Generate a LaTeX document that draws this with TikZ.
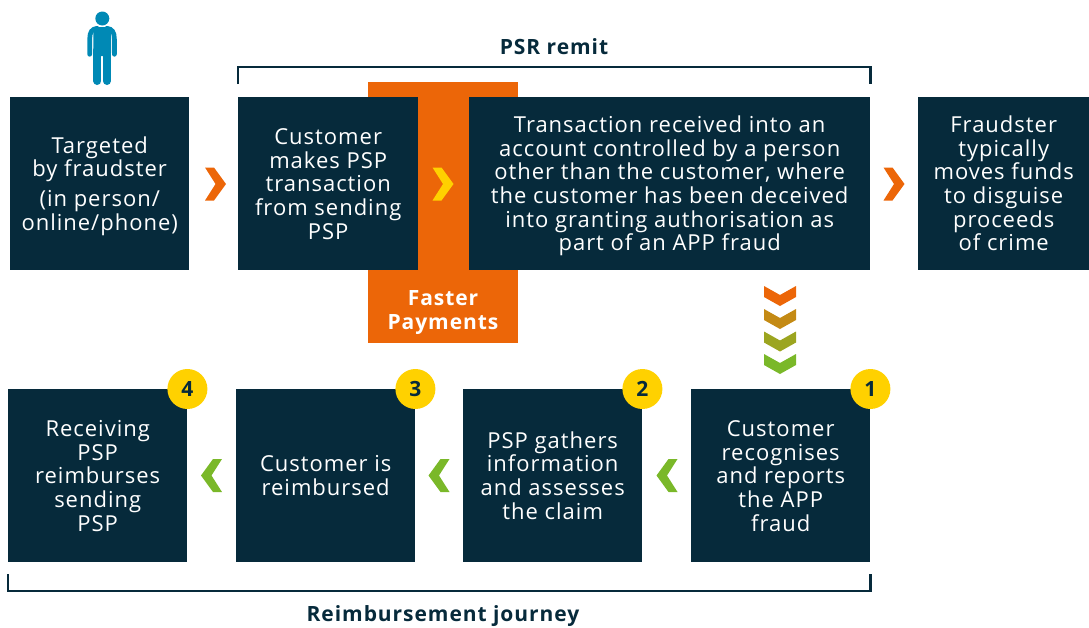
\documentclass[tikz,border=0pt]{standalone}
\usepackage{fontspec}
\setmainfont[LetterSpace=4.5]{Open Sans}
\definecolor{navy}{HTML}{062A3B}
\definecolor{fporange}{HTML}{EC6608}
\definecolor{fpyellow}{HTML}{FFD100}
\definecolor{fpgreen}{HTML}{7AB829}
\definecolor{fpmid}{HTML}{C48A14}
\definecolor{fpmidb}{HTML}{9CA520}
\definecolor{fpblue}{HTML}{0089B5}
\newcommand{\fst}{\rule{0pt}{21pt}}
\tikzset{
  evenlines/.style={execute at end node={\rule[-5pt]{0pt}{5pt}}},
  fpbox/.style={fill=navy,text=white,inner sep=0pt,align=center,font=\fontsize{22}{23.7}\selectfont,anchor=north west,evenlines},
  badge/.style={circle,fill=fpyellow,text=navy,minimum size=40pt,inner sep=0pt,font=\bfseries\fontsize{21}{24}\selectfont},
  heading/.style={text=navy,font=\bfseries\fontsize{21}{24}\selectfont,inner sep=0pt},
  bracket/.style={draw=navy,line width=2.2pt},
}
\newcommand{\chevd}[3]{\fill[#1] (-16+#2,#3)--(0+#2,#3+9)--(16+#2,#3)--(16+#2,#3+11)--(0+#2,#3+20)--(-16+#2,#3+11)--cycle;}
\newcommand{\chevr}[3]{\fill[#1] (#2-10.5,#3-16.5)--(#2-1.5,#3-16.5)--(#2+10.5,#3)--(#2-1.5,#3+16.5)--(#2-10.5,#3+16.5)--(#2,#3)--cycle;}
\newcommand{\chevl}[3]{\fill[#1] (#2+10.5,#3-16.5)--(#2+1.5,#3-16.5)--(#2-10.5,#3)--(#2+1.5,#3+16.5)--(#2+10.5,#3+16.5)--(#2,#3)--cycle;}
\begin{document}
\begin{tikzpicture}[x=1pt,y=-1pt]
\useasboundingbox (0,0) rectangle (1089,627);
% person
\fill[fpblue] (102.3,18.5) circle (7);
\fill[fpblue,rounded corners=3pt] (93.4,56)--(93.4,27)--(111,27)--(111,56)--cycle;
\draw[fpblue,line width=4.7pt,line cap=round] (89.7,54.3)--(89.7,39) .. controls (89.7,32) and (92,29) .. (97,28.3);
\draw[fpblue,line width=4.7pt,line cap=round] (114.4,54.3)--(114.4,39) .. controls (114.4,32) and (112,29) .. (107,28.3);
\draw[fpblue,line width=8pt,line cap=round] (97.4,50)--(97.4,81);
\draw[fpblue,line width=8pt,line cap=round] (106.9,50)--(106.9,81);
% orange band
\fill[fporange] (368,82) rectangle (518,343);
\node[text=white,align=center,inner sep=0pt,font=\bfseries\fontsize{21}{24}\selectfont,evenlines] (fp) at (443,309.5) {\fst Faster\\Payments};
% top row
\node[fpbox,minimum width=179pt,minimum height=173pt] (a) at (10,97) {\fst Targeted\\by fraudster\\[6pt](in person/\\online/phone)};
\node[fpbox,minimum width=180pt,minimum height=173pt] (b) at (238,97) {\fst Customer\\makes PSP\\transaction\\from sending\\PSP};
\node[fpbox,minimum width=401pt,minimum height=173pt] (c) at (469,97) {\fst Transaction received into an\\account controlled by a person\\other than the customer, where\\the customer has been deceived\\into granting authorisation as\\part of an APP fraud};
\node[fpbox,minimum width=171pt,minimum height=173pt] (d) at (918,97) {\fst Fraudster\\typically\\moves funds\\to disguise\\proceeds\\of crime};
% bottom row
\node[fpbox,minimum width=179pt,minimum height=173pt] (e) at (8,389) {\fst Receiving\\PSP\\reimburses\\sending\\PSP};
\node[fpbox,minimum width=179pt,minimum height=173pt] (f) at (236,389) {\fst Customer is\\reimbursed};
\node[fpbox,minimum width=179pt,minimum height=173pt] (g) at (463,389) {\fst PSP gathers\\information\\and assesses\\the claim};
\node[fpbox,minimum width=179pt,minimum height=173pt] (h) at (691,389) {\fst Customer\\recognises\\and reports\\the APP\\fraud};
% badges
\node[badge] (n1) at (h.north east) {1};
\node[badge] (n2) at (g.north east) {2};
\node[badge] (n3) at (f.north east) {3};
\node[badge] (n4) at (e.north east) {4};
% chevrons
\chevr{fporange}{215.5}{184}
\chevr{fpyellow}{443}{184}
\chevr{fporange}{894}{184}
\chevl{fpgreen}{211.5}{475.5}
\chevl{fpgreen}{439}{475.5}
\chevl{fpgreen}{667}{475.5}
\chevd{fporange}{780}{286}
\chevd{fpmid}{780}{309}
\chevd{fpmidb}{780}{331.5}
\chevd{fpgreen}{780}{354}
% brackets
\coordinate (t1) at (b.north west|-0,84);
\coordinate (t2) at (c.north east|-0,84);
\coordinate (b1) at (e.south west|-0,574);
\coordinate (b2) at (h.south east|-0,574);
\draw[bracket] (t1)--([yshift=17pt]t1)--([yshift=17pt]t2)--(t2);
\draw[bracket] (b1)--([yshift=-17pt]b1)--([yshift=-17pt]b2)--(b2);
\node[heading] (psr) at (554,47) {PSR remit};
\node[heading] (rj) at (443,616) {Reimbursement journey};
\end{tikzpicture}
\end{document}
